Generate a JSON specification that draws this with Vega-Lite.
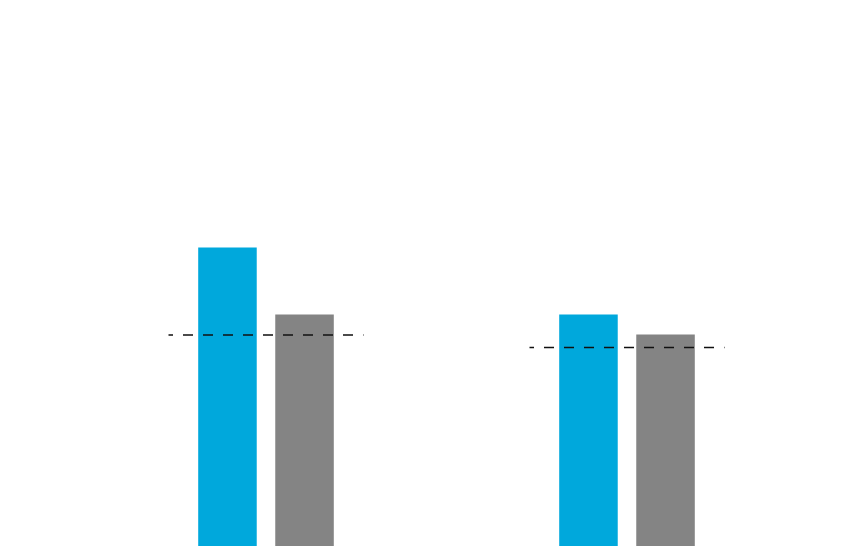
{
  "$schema": "https://vega.github.io/schema/vega-lite/v6.json",
  "autosize": {"type": "none"},
  "padding": {"left": 85.5, "right": 56.5, "top": 46, "bottom": 5},
  "width": 722,
  "height": 500,
  "background": "white",
  "config": {"view": {"stroke": null}},
  "datasets": {
    "bars": [
      {"group": "Group 1", "series": "Series A", "value": 59.7},
      {"group": "Group 1", "series": "Series B", "value": 46.3},
      {"group": "Group 2", "series": "Series A", "value": 46.3},
      {"group": "Group 2", "series": "Series B", "value": 42.3}
    ],
    "refs": [
      {"group": "Group 1", "value": 42.2},
      {"group": "Group 2", "value": 39.7}
    ]
  },
  "layer": [
    {
      "data": {"name": "bars"},
      "mark": {"type": "bar"},
      "encoding": {
        "x": {"field": "group", "type": "nominal", "axis": null,
              "scale": {"paddingInner": 0, "paddingOuter": 0}},
        "xOffset": {"field": "series", "type": "nominal",
                    "scale": {"range": [112.7, 248.3], "paddingInner": 0.2403, "paddingOuter": 0}},
        "y": {"field": "value", "type": "quantitative", "axis": null,
              "scale": {"domain": [0, 100], "nice": false, "zero": true}},
        "color": {"field": "series", "type": "nominal", "legend": null,
                  "scale": {"domain": ["Series A", "Series B"], "range": ["#00A8DC", "#848484"]}}
      }
    },
    {
      "data": {"name": "refs"},
      "mark": {"type": "rule", "color": "#111111", "strokeWidth": 1.6,
               "strokeDash": [10, 10], "strokeDashOffset": 5.5,
               "xOffset": -97.5, "x2Offset": 97.5},
      "encoding": {
        "x": {"field": "group", "type": "nominal"},
        "x2": {"field": "group"},
        "y": {"field": "value", "type": "quantitative"}
      }
    }
  ]
}
